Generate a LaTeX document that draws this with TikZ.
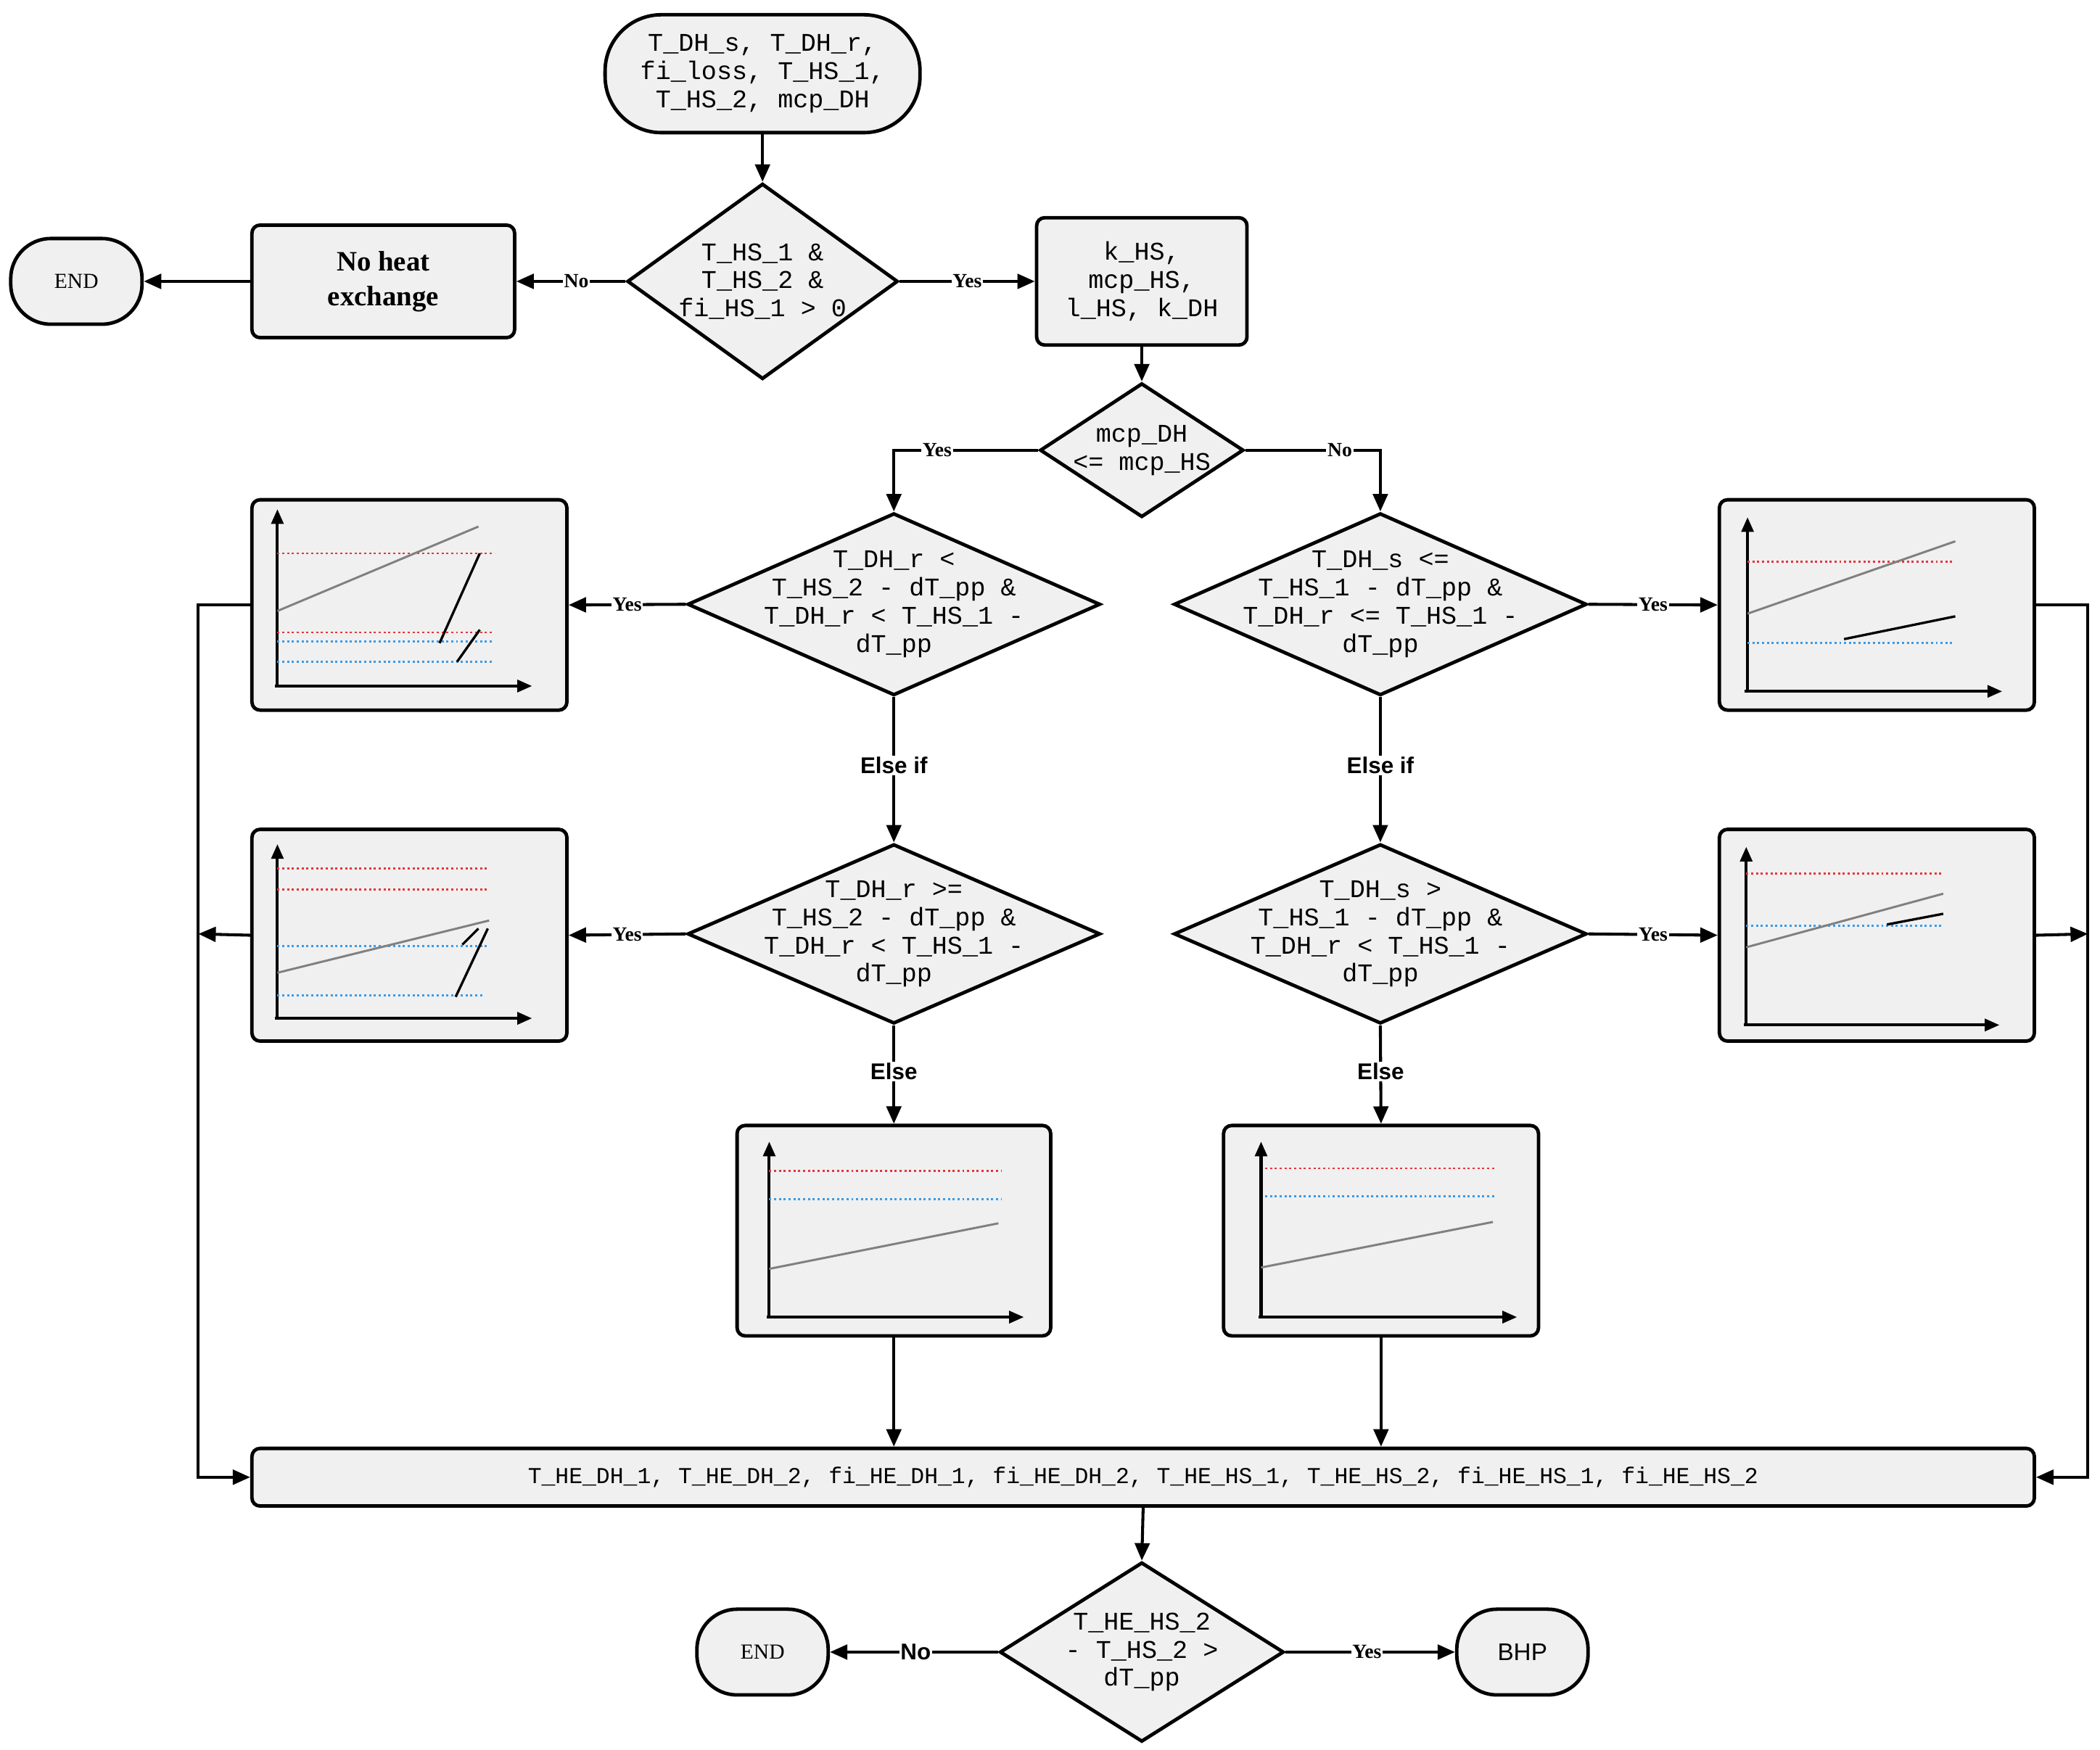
\documentclass[tikz,border=0pt]{standalone}
\usepackage{fontspec}
\setmainfont{Liberation Serif}
\setsansfont{Liberation Sans}
\setmonofont{Liberation Mono}
\usetikzlibrary{shapes.geometric,arrows.meta}
\definecolor{boxfill}{HTML}{F0F0F0}
\definecolor{dred}{HTML}{E8333A}
\definecolor{dblue}{HTML}{3A9BE8}
\begin{document}
\begin{tikzpicture}[x=1pt,y=-1pt,
  base/.style={draw=black,line width=2.6pt,fill=boxfill,inner sep=0pt},
  box/.style={base,rectangle,rounded corners=6pt},
  term/.style={base,rectangle,rounded corners=30pt},
  dia/.style={base,diamond},
  mono/.style={font=\fontsize{19}{21}\selectfont\ttfamily,align=center},
  arr/.style={line width=2.2pt,-{Triangle[length=13pt,width=11pt]}},
  ln/.style={line width=2.2pt},
  lab/.style={fill=white,inner sep=1pt,font=\fontsize{15}{17}\selectfont\bfseries},
  slab/.style={fill=white,inner sep=1pt,font=\fontsize{17}{19}\selectfont\sffamily\bfseries},
  ax/.style={line width=2.2pt,-{Triangle[length=11pt,width=9pt]}},
  rd/.style={dred,line width=1.6pt,dotted},
  bd/.style={dblue,line width=1.6pt,dotted},
  gl/.style={gray,line width=1.6pt},
  bl/.style={black,line width=1.8pt}]
\useasboundingbox (0,0) rectangle (1567,1306);

% nodes
\node[term,rounded corners=42pt,minimum width=235pt,minimum height=88pt] (start) at (569,55) {};
\node[mono] at (start) {T\_DH\_s, T\_DH\_r,\\fi\_loss, T\_HS\_1,\\T\_HS\_2, mcp\_DH};
\node[dia,minimum width=202pt,minimum height=146pt] (d1) at (569,210) {};
\node[mono] at (d1) {T\_HS\_1 \&\\T\_HS\_2 \&\\fi\_HS\_1 > 0};
\node[box,minimum width=196pt,minimum height=84pt,font=\fontsize{21}{26}\selectfont\bfseries,align=center] (nohe) at (286,210) {No heat\\exchange};
\node[term,minimum width=98pt,minimum height=64pt,font=\fontsize{16}{18}\selectfont] (end1) at (57,210) {END};
\node[box,minimum width=157pt,minimum height=95pt] (k) at (852,210) {};
\node[mono] at (k) {k\_HS,\\mcp\_HS,\\l\_HS, k\_DH};
\node[dia,minimum width=152pt,minimum height=100pt] (d2) at (852,336) {};
\node[mono] at (d2) {mcp\_DH\\<= mcp\_HS};
\node[dia,minimum width=308pt,minimum height=136pt] (d3) at (667,451) {};
\node[mono] at (d3) {T\_DH\_r <\\T\_HS\_2 - dT\_pp \&\\T\_DH\_r < T\_HS\_1 -\\dT\_pp};
\node[dia,minimum width=308pt,minimum height=136pt] (d4) at (1030,451) {};
\node[mono] at (d4) {T\_DH\_s <=\\T\_HS\_1 - dT\_pp \&\\T\_DH\_r <= T\_HS\_1 -\\dT\_pp};
\node[dia,minimum width=308pt,minimum height=134pt] (d5) at (667,697) {};
\node[mono] at (d5) {T\_DH\_r >=\\T\_HS\_2 - dT\_pp \&\\T\_DH\_r < T\_HS\_1 -\\dT\_pp};
\node[dia,minimum width=308pt,minimum height=134pt] (d6) at (1030,697) {};
\node[mono] at (d6) {T\_DH\_s >\\T\_HS\_1 - dT\_pp \&\\T\_DH\_r < T\_HS\_1 -\\dT\_pp};
\node[box,minimum width=235pt,minimum height=157pt] (l1) at (305.5,451.5) {};
\node[box,minimum width=235pt,minimum height=157pt] (r1) at (1400.5,451.5) {};
\node[box,minimum width=235pt,minimum height=158pt] (l2) at (305.5,698) {};
\node[box,minimum width=235pt,minimum height=158pt] (r2) at (1400.5,698) {};
\node[box,minimum width=234pt,minimum height=157pt] (b1) at (667,918.5) {};
\node[box,minimum width=235pt,minimum height=157pt] (b2) at (1030.5,918.5) {};
\node[box,minimum width=1330pt,minimum height=43pt,font=\fontsize{17}{19}\selectfont\ttfamily] (out) at (853,1102.5) {T\_HE\_DH\_1, T\_HE\_DH\_2, fi\_HE\_DH\_1, fi\_HE\_DH\_2, T\_HE\_HS\_1, T\_HE\_HS\_2, fi\_HE\_HS\_1, fi\_HE\_HS\_2};
\node[dia,minimum width=212pt,minimum height=134pt] (d7) at (852,1233) {};
\node[mono] at (d7) {T\_HE\_HS\_2\\- T\_HS\_2 >\\dT\_pp};
\node[term,minimum width=98pt,minimum height=64pt,font=\fontsize{16}{18}\selectfont] (end2) at (569,1233) {END};
\node[term,minimum width=98pt,minimum height=64pt,font=\fontsize{18}{20}\selectfont\sffamily] (bhp) at (1136,1233) {BHP};
\coordinate (jl) at (148,697);
\coordinate (jr) at (1558,697);

% charts L1
\draw[ax] (207,512) -- (207,380); \draw[ax] (205,512) -- (397,512);
\draw[rd] (207,413) -- (369,413); \draw[rd] (207,472) -- (368,472);
\draw[bd] (207,479) -- (368,479); \draw[bd] (207,494) -- (368,494);
\draw[gl] (207,456) -- (357,393);
\draw[bl] (358,413) -- (328,480); \draw[bl] (358,470) -- (341,494);
% R1
\draw[ax] (1304,516) -- (1304,386); \draw[ax] (1302,516) -- (1494,516);
\draw[rd] (1304,419) -- (1458,419); \draw[bd] (1304,480) -- (1458,480);
\draw[gl] (1304,458) -- (1459,404);
\draw[bl] (1376,477) -- (1459,460);
% L2
\draw[ax] (207,760) -- (207,630); \draw[ax] (205,760) -- (397,760);
\draw[rd] (207,648) -- (363,648); \draw[rd] (207,664) -- (363,664);
\draw[bd] (207,706) -- (363,706); \draw[bd] (207,743) -- (360,743);
\draw[gl] (207,726) -- (365,687);
\draw[bl] (345,705) -- (357,693); \draw[bl] (340,744) -- (364,693);
% R2
\draw[ax] (1303,765) -- (1303,632); \draw[ax] (1301,765) -- (1492,765);
\draw[rd] (1303,652) -- (1450,652); \draw[bd] (1303,691) -- (1450,691);
\draw[gl] (1303,707) -- (1450,667);
\draw[bl] (1408,690) -- (1450,682);
% B1
\draw[ax] (574,983) -- (574,852); \draw[ax] (572,983) -- (764,983);
\draw[rd] (574,874) -- (747,874); \draw[bd] (574,895) -- (747,895);
\draw[gl] (574,947) -- (745,913);
% B2
\draw[ax] (941,983) -- (941,852); \draw[ax] (939,983) -- (1132,983);
\draw[rd] (944,872) -- (1116,872); \draw[bd] (944,893) -- (1116,893);
\draw[gl] (941,946) -- (1114,912);

% connectors
\draw[arr] (start) -- (d1);
\draw[arr] (d1.west) -- node[lab,pos=.45]{No} (nohe.east);
\draw[arr] (nohe.west) -- (end1.east);
\draw[arr] (d1.east) -- node[lab,pos=.5]{Yes} (k.west);
\draw[arr] (k.south) -- (d2.north);
\draw[arr] (d2.west) -| node[lab,pos=.35]{Yes} (d3.north);
\draw[arr] (d2.east) -| node[lab,pos=.35]{No} (d4.north);
\draw[arr] (d3.west) -- node[lab,pos=.5]{Yes} (l1.east);
\draw[arr] (d4.east) -- node[lab,pos=.5]{Yes} (r1.west);
\draw[arr] (d5.west) -- node[lab,pos=.5]{Yes} (l2.east);
\draw[arr] (d6.east) -- node[lab,pos=.5]{Yes} (r2.west);
\draw[arr] (d3.south) -- node[slab,pos=.47]{Else if} (d5.north);
\draw[arr] (d4.south) -- node[slab,pos=.47]{Else if} (d6.north);
\draw[arr] (d5.south) -- node[slab,pos=.47]{Else} (b1.north);
\draw[arr] (d6.south) -- node[slab,pos=.47]{Else} (b2.north);
\draw[arr] (b1.south) -- (b1.south |- out.north);
\draw[arr] (b2.south) -- (b2.south |- out.north);
\draw[arr] (l1.west) -- (148,451.5) |- (out.west);
\draw[arr] (r1.east) -- (1558,451.5) |- (out.east);
\draw[arr] (l2.west) -- (jl);
\draw[arr] (r2.east) -- (jr);
\draw[arr] (out.south) -- (d7.north);
\draw[arr] (d7.west) -- node[slab,pos=.49]{No} (end2.east);
\draw[arr] (d7.east) -- node[lab,pos=.48]{Yes} (bhp.west);
\end{tikzpicture}
\end{document}
